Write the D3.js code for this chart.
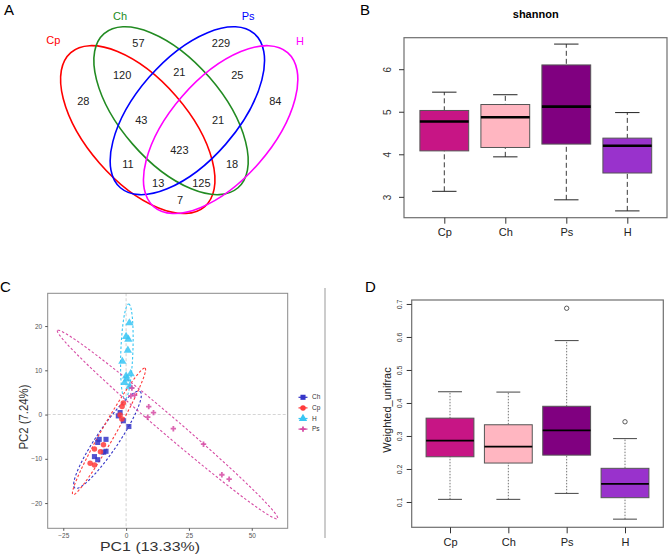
<!DOCTYPE html>
<meta charset="utf-8">
<style>
  body { margin: 0; background: #fff; }
  text { font-family: "Liberation Sans", Arial, sans-serif; }
</style>
<body>
<svg width="669" height="555"></svg>
<script src="https://cdnjs.cloudflare.com/ajax/libs/d3/7.8.5/d3.min.js"></script>
<script>

// ---------- data ----------
var groups = ["Cp", "Ch", "Ps", "H"];
var boxColors = ["#C71585", "#FFB6C1", "#800080", "#9932CC"];

// venn: sets and region counts (normalised venn units)
var vennSets = ["Cp", "Ch", "Ps", "H"];
var vennSetColors = ["#FF0000", "#228B22", "#0000FF", "#FF00FF"];
var vennCentres = [[0.368, 0.345], [0.472, 0.404], [0.523, 0.404], [0.627, 0.345]];
var vennRotation = [-49, -49, 49, 49];
var vennAxes = [0.319, 0.159];
var vennLabelPos = [[0.104, 0.625], [0.3125, 0.698], [0.713, 0.698], [0.875, 0.62]];
var vennCounts = [57, 229, 120, 21, 25, 28, 84, 43, 21, 423, 11, 18, 13, 125, 7];
var vennCountPos = [[0.370, 0.615], [0.628, 0.615], [0.319, 0.516], [0.498, 0.526], [0.679, 0.516],
  [0.198, 0.434], [0.798, 0.434], [0.379, 0.373], [0.619, 0.373], [0.498, 0.281],
  [0.3375, 0.2375], [0.6625, 0.2375], [0.432, 0.177], [0.567, 0.177], [0.5, 0.125]];

// shannon boxplot: [low whisker, Q1, median, Q3, high whisker]
var shannonStats = [
  [3.13, 4.08, 4.77, 5.03, 5.46],
  [3.94, 4.16, 4.87, 5.17, 5.40],
  [2.93, 4.24, 5.12, 6.10, 6.59],
  [2.67, 3.56, 4.20, 4.38, 4.98]
];
var shannonTicks = [3, 4, 5, 6];

// weighted unifrac boxplot
var unifracStats = [
  [0.108, 0.237, 0.286, 0.354, 0.434],
  [0.108, 0.218, 0.268, 0.334, 0.433],
  [0.126, 0.242, 0.317, 0.390, 0.589],
  [0.048, 0.113, 0.155, 0.202, 0.292]
];
var unifracOutliers = [[], [], [0.687], [0.343]];
var unifracTicks = [0.1, 0.2, 0.3, 0.4, 0.5, 0.6, 0.7];

// PCA
var pcaGroups = ["Ch", "Cp", "H", "Ps"];
var pcaColors = ["#3535C8", "#FF3B3B", "#38C6F4", "#D64BA4"];
var pcaCh = [[-2.4, 0.45], [-3.1, -0.3], [-1.1, -1.4], [1.1, -2.7], [-10.7, -5.6], [-8.0, -5.6],
  [-11.3, -6.3], [-8.0, -8.3], [-8.9, -8.5], [-12.6, -9.5], [-11.3, -10.2]];
var pcaCp = [[-1.1, 2.6], [-1.6, 1.8], [-2.4, -0.1], [-1.7, -1.0], [-9.0, -6.8], [-12.6, -7.8],
  [-10.2, -8.4], [-14.3, -11.0], [-12.6, -11.4]];
var pcaH = [[1.3, 20.7], [0, 17.6], [0.9, 17.0], [0.7, 14.5], [-1.5, 12.0], [1.8, 9.2], [0, 8.7],
  [0.3, 8.0], [-0.6, 7.2], [1.4, 6.4]];
var pcaPs = [[2.3, 6.0], [3.4, 4.4], [1.9, 4.2], [9.0, 1.8], [10.9, 0.45], [8.6, -0.6],
  [18.8, -3.2], [30.8, -6.7], [38.1, -13.6], [41.0, -14.6]];
// ellipse: centre, semi-axis u, conjugate semi-axis v (data units)
var pcaEllipses = [
  [-7.4, -5.7, 12.97, 10.9, 3.63, -1.39],
  [-6.8, -3.8, 14.36, 14.29, 2.42, -0.78],
  [0.3, 14.25, 0.7, 10.75, 2.4, 0],
  [16.5, -2.26, -43.8, 21.26, -2.32, -1.55]
];
var pcaXTicks = [-25, 0, 25, 50];
var pcaYTicks = [-20, -10, 0, 10, 20];

var svg = d3.select("svg");

// panel letters
svg.selectAll(".letter").data([["A", 4, 15], ["B", 360, 15], ["C", 0, 292], ["D", 365, 292]])
  .enter().append("text")
  .attr("x", d => d[1]).attr("y", d => d[2])
  .style("font-size", "15px")
  .text(d => d[0]);

// ---------- A: venn ----------
var vx = d3.scaleLinear().domain([0, 1]).range([20, 340]);
var vy = d3.scaleLinear().domain([0, 0.75]).range([240, 0]);
var unit = vx(1) - vx(0);
var gA = svg.append("g");

gA.selectAll("ellipse").data(vennSets).enter().append("ellipse")
  .attr("transform", (d, i) => "translate(" + vx(vennCentres[i][0]) + "," + vy(vennCentres[i][1]) + ") rotate(" + (-vennRotation[i]) + ")")
  .attr("rx", vennAxes[0] * unit)
  .attr("ry", vennAxes[1] * unit)
  .attr("fill", "none")
  .attr("stroke", (d, i) => vennSetColors[i])
  .attr("stroke-width", 1.6);

gA.selectAll(".setlab").data(vennSets).enter().append("text")
  .attr("x", (d, i) => vx(vennLabelPos[i][0]))
  .attr("y", (d, i) => vy(vennLabelPos[i][1]))
  .attr("text-anchor", "middle").attr("dy", "0.35em")
  .style("font-size", "11px")
  .attr("fill", (d, i) => vennSetColors[i])
  .text(d => d);

gA.selectAll(".count").data(vennCounts).enter().append("text")
  .attr("x", (d, i) => vx(vennCountPos[i][0]))
  .attr("y", (d, i) => vy(vennCountPos[i][1]))
  .attr("text-anchor", "middle").attr("dy", "0.35em")
  .style("font-size", "11px")
  .attr("fill", "#222")
  .text(d => d);

// ---------- boxplots (B, D) ----------
function boxPanel(o) {
  var g = svg.append("g");
  var x = d3.scalePoint().domain(groups).range(o.xr);
  var y = d3.scaleLinear().domain(o.yd).range([o.y1, o.y0]);
  var bw = x.step() * o.bw;

  g.append("rect")
    .attr("x", o.x0).attr("y", o.y0)
    .attr("width", o.x1 - o.x0).attr("height", o.y1 - o.y0)
    .attr("fill", "none").attr("stroke", "#6e6e6e").attr("stroke-width", 1.2);

  var b = g.selectAll(".box").data(o.stats).enter().append("g");
  // whiskers
  b.append("line")
    .attr("x1", (d, i) => x(groups[i])).attr("x2", (d, i) => x(groups[i]))
    .attr("y1", d => y(d[0])).attr("y2", d => y(d[4]))
    .attr("stroke", o.whisk).attr("stroke-dasharray", o.dash).attr("stroke-width", 0.9);
  // staples
  [0, 4].forEach(function(k) {
    b.append("line")
      .attr("x1", (d, i) => x(groups[i]) - bw / 4).attr("x2", (d, i) => x(groups[i]) + bw / 4)
      .attr("y1", d => y(d[k])).attr("y2", d => y(d[k]))
      .attr("stroke", o.staple).attr("stroke-width", 1);
  });
  b.append("rect")
    .attr("x", (d, i) => x(groups[i]) - bw / 2).attr("width", bw)
    .attr("y", d => y(d[3])).attr("height", d => y(d[1]) - y(d[3]))
    .attr("fill", (d, i) => boxColors[i])
    .attr("stroke", "#555").attr("stroke-width", 1);
  b.append("line")
    .attr("x1", (d, i) => x(groups[i]) - bw / 2).attr("x2", (d, i) => x(groups[i]) + bw / 2)
    .attr("y1", d => y(d[2])).attr("y2", d => y(d[2]))
    .attr("stroke", "#000").attr("stroke-width", o.medw);

  if (o.outliers) {
    o.outliers.forEach(function(arr, i) {
      g.selectAll(null).data(arr).enter().append("circle")
        .attr("cx", x(groups[i])).attr("cy", d => y(d))
        .attr("r", 2.2).attr("fill", "none").attr("stroke", "#333").attr("stroke-width", 0.8);
    });
  }

  var ax = g.append("g").attr("transform", "translate(0," + o.y1 + ")")
    .call(d3.axisBottom(x).tickSize(6).tickPadding(5));
  ax.select(".domain").remove();
  ax.selectAll("line").attr("stroke", "#333");
  ax.selectAll("text").style("font-size", "11px").attr("fill", "#222")
    .style("font-family", "Liberation Sans, Arial, sans-serif");

  var ay = g.append("g").attr("transform", "translate(" + o.x0 + ",0)")
    .call(d3.axisLeft(y).tickValues(o.ticks).tickSize(5).tickFormat(o.fmt));
  ay.select(".domain").remove();
  ay.selectAll("line").attr("stroke", "#333");
  // R style: labels parallel to the axis
  ay.selectAll("text")
    .attr("x", null).attr("dy", null).attr("y", 0)
    .attr("text-anchor", "middle")
    .attr("transform", "translate(" + (-o.lab) + ",0) rotate(-90)")
    .style("font-size", o.tfs).attr("fill", "#333")
    .style("font-family", "Liberation Sans, Arial, sans-serif");
  return g;
}

boxPanel({
  stats: shannonStats, x0: 404, x1: 667, y0: 37.7, y1: 217.7,
  xr: [444.3, 627.3], yd: [2.51, 6.74], bw: 0.8, ticks: shannonTicks,
  fmt: d3.format("d"), lab: 13, tfs: "10px", whisk: "#222", staple: "#222",
  dash: "5,3", medw: 2.6
});
svg.append("text").attr("x", 535.7).attr("y", 18).attr("text-anchor", "middle")
  .style("font-size", "11px").style("font-weight", "bold").text("shannon");

boxPanel({
  stats: unifracStats, outliers: unifracOutliers, x0: 411.7, x1: 663.3, y0: 300, y1: 527.3,
  xr: [450, 625], yd: [0.0233, 0.712], bw: 0.82, ticks: unifracTicks,
  fmt: d3.format(".1f"), lab: 10, tfs: "7px", whisk: "#666", staple: "#444",
  dash: "1.5,1.5", medw: 1.8
});
svg.append("text")
  .attr("transform", "translate(391,410) rotate(-90)")
  .attr("text-anchor", "middle")
  .style("font-size", "11px").attr("fill", "#222")
  .text("Weighted_unifrac");

// ---------- C: PCA ----------
var gC = svg.append("g");
var px = d3.scaleLinear().domain([-31.2, 64.3]).range([47.7, 287.7]);
var py = d3.scaleLinear().domain([-25.7, 27.4]).range([528.3, 293.3]);

gC.append("line").attr("x1", px(0)).attr("x2", px(0)).attr("y1", py.range()[1]).attr("y2", py.range()[0])
  .attr("stroke", "#d5d5d5").attr("stroke-width", 1.1).attr("stroke-dasharray", "3,2");
gC.append("line").attr("y1", py(0)).attr("y2", py(0)).attr("x1", px.range()[0]).attr("x2", px.range()[1])
  .attr("stroke", "#d5d5d5").attr("stroke-width", 1.1).attr("stroke-dasharray", "3,2");

var ellipseLine = d3.line().x(d => px(d[0])).y(d => py(d[1]));
gC.selectAll(".ell").data(pcaEllipses).enter().append("path")
  .attr("d", function(e) {
    var pts = d3.range(0, 2 * Math.PI + 0.01, Math.PI / 60).map(t =>
      [e[0] + e[2] * Math.cos(t) + e[4] * Math.sin(t), e[1] + e[3] * Math.cos(t) + e[5] * Math.sin(t)]);
    return ellipseLine(pts);
  })
  .attr("fill", "none")
  .attr("stroke", (d, i) => pcaColors[i])
  .attr("stroke-width", 1.1)
  .attr("stroke-dasharray", "2.5,2");

var shapes = [d3.symbolSquare, d3.symbolCircle, d3.symbolTriangle, d3.symbolCross];
var sizes = [26, 24, 30, 16];
[pcaCh, pcaCp, pcaH, pcaPs].forEach(function(pts, i) {
  gC.selectAll(null).data(pts).enter().append("path")
    .attr("d", d3.symbol().type(shapes[i]).size(sizes[i]))
    .attr("transform", d => "translate(" + px(d[0]) + "," + py(d[1]) + ")")
    .attr("fill", pcaColors[i]).attr("fill-opacity", 0.85);
});

gC.append("rect")
  .attr("x", px.range()[0]).attr("y", py.range()[1])
  .attr("width", px.range()[1] - px.range()[0]).attr("height", py.range()[0] - py.range()[1])
  .attr("fill", "none").attr("stroke", "#8a8a8a").attr("stroke-width", 1);

var cx = gC.append("g").attr("transform", "translate(0," + py.range()[0] + ")")
  .call(d3.axisBottom(px).tickValues(pcaXTicks).tickSize(2.5).tickPadding(3));
var cy = gC.append("g").attr("transform", "translate(" + px.range()[0] + ",0)")
  .call(d3.axisLeft(py).tickValues(pcaYTicks).tickSize(2.5).tickPadding(3));
[cx, cy].forEach(function(a) {
  a.select(".domain").remove();
  a.selectAll("line").attr("stroke", "#555");
  a.selectAll("text").style("font-size", "6.5px").attr("fill", "#555")
    .style("font-family", "Liberation Sans, Arial, sans-serif")
    .text(d => d3.format("d")(d).replace("-", "\u2212"));
});

gC.append("text").attr("x", 150).attr("y", 551).attr("text-anchor", "middle")
  .style("font-size", "13px").attr("fill", "#333")
  .attr("textLength", 100).attr("lengthAdjust", "spacingAndGlyphs")
  .text("PC1 (13.33%)");
gC.append("text").attr("transform", "translate(28,417) rotate(-90)").attr("text-anchor", "middle")
  .style("font-size", "13px").attr("fill", "#333")
  .attr("textLength", 65).attr("lengthAdjust", "spacingAndGlyphs")
  .text("PC2 (7.24%)");

// legend
var leg = gC.selectAll(".leg").data(pcaGroups).enter().append("g")
  .attr("transform", (d, i) => "translate(303," + (397.3 + i * 10.6) + ")");
leg.append("line").attr("x1", -4.5).attr("x2", 4.5)
  .attr("stroke", (d, i) => pcaColors[i]).attr("stroke-width", 1.2);
leg.append("path")
  .attr("d", (d, i) => d3.symbol().type(shapes[i]).size(sizes[i])())
  .attr("fill", (d, i) => pcaColors[i]);
leg.append("text").attr("x", 9).attr("dy", "0.33em")
  .style("font-size", "6.5px").attr("fill", "#333")
  .text(d => d);

gC.append("line").attr("x1", 325).attr("x2", 325).attr("y1", 288).attr("y2", 538)
  .attr("stroke", "#999").attr("stroke-width", 1);

</script>
</body>
